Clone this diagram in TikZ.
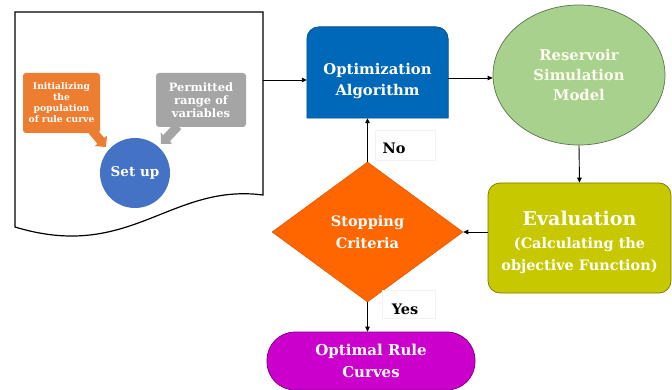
\documentclass[tikz,border=0pt]{standalone}
\usepackage{fontspec}
\setmainfont{DejaVu Serif}
\usetikzlibrary{shapes.geometric,arrows.meta}
\definecolor{optblue}{HTML}{0068B8}
\definecolor{resgreen}{HTML}{A9D18E}
\definecolor{evalol}{HTML}{C8C800}
\definecolor{stoporange}{HTML}{FF6600}
\definecolor{optmag}{HTML}{CC00CC}
\definecolor{setblue}{HTML}{4472C4}
\definecolor{callorange}{HTML}{ED7D31}
\definecolor{callgray}{HTML}{A5A5A5}
\tikzset{
  conn/.style={draw=black, line width=0.9pt, -{Triangle[length=5pt,width=4.5pt]}},
  boxtext/.style={text=white, font=\bfseries, align=center, inner sep=0pt},
  labelbox/.style={draw=black!5, fill=white, inner sep=0pt},
  labeltext/.style={font=\bfseries\fontsize{14.5}{16}\selectfont, inner sep=0pt},
  callout/.style={rounded corners=3pt, text=white, align=center, inner sep=0pt},
}
\begin{document}
\begin{tikzpicture}[x=1pt,y=-1pt]
\useasboundingbox (0,0) rectangle (672,390);
% document shape
\draw[line width=1.2pt, fill=white] (15,12) -- (263,12) -- (263,195)
  .. controls (170,183) and (130,262) .. (15,227) -- cycle;
\coordinate (doc) at (263,80);
% callout arrows
\fill[callorange] (93.4,125.1) -- (104.3,138.0) -- (107.0,135.7) -- (106,147) -- (94.7,146.1) -- (97.4,143.8) -- (86.6,130.9) -- cycle;
\fill[callgray] (181.3,129.1) -- (169.8,141.3) -- (172.3,143.7) -- (161,144) -- (160.7,132.7) -- (163.2,135.1) -- (174.7,122.9) -- cycle;
% callouts
\node[callout, fill=callorange, minimum width=77pt, minimum height=60pt,
  font=\bfseries\fontsize{9.2}{11}\selectfont] (init) at (61.5,103)
  {Initializing\\the\\population\\of rule curve};
\node[callout, fill=callgray, minimum width=90pt, minimum height=54pt,
  font=\bfseries\fontsize{11.5}{12.8}\selectfont] (perm) at (201,100)
  {Permitted\\range of\\variables};
% set up circle
\node[circle, fill=setblue, minimum size=70pt, inner sep=0pt, text=white,
  font=\bfseries\fontsize{13.5}{15}\selectfont] (setup) at (135,173) {Set up};
% optimization algorithm
\node[minimum width=141pt, minimum height=91pt, inner sep=0pt] (opt) at (377.5,72.5) {};
\draw[fill=optblue, draw=optblue!70!black, line width=0.6pt]
  (opt.south west) [rounded corners=12pt] -- (opt.north west) -- (opt.north east) [sharp corners] -- (opt.south east) -- cycle;
\node[boxtext, font=\bfseries\fontsize{14.8}{21}\selectfont] (opttext) at ([yshift=-9pt]opt.center) {Optimization\\Algorithm};
% reservoir
\node[ellipse, fill=resgreen, draw=resgreen!55!black, line width=0.7pt, minimum width=172pt,
  minimum height=140pt, inner sep=0pt, text=white!94!yellow, align=center,
  font=\bfseries\fontsize{14.8}{20}\selectfont] (res) at (579,75)
  {Reservoir\\Simulation\\Model};
% evaluation
\node[rounded corners=12pt, fill=evalol, draw=evalol!60!black, line width=0.7pt,
  minimum width=183pt, minimum height=110pt, inner sep=0pt] (eval) at (579.5,238) {};
\node[text=white, align=center, inner sep=0pt,
  font=\bfseries\fontsize{14.4}{22}\selectfont] (evaltext) at ([yshift=-4pt]eval.center)
  {{\fontsize{19}{22}\selectfont Evaluation}\\[1pt]
   (Calculating the\\
   objective Function)};
% diamond
\node[diamond, fill=stoporange, draw=stoporange!85!black, line width=0.5pt, minimum width=191pt,
  minimum height=140pt, inner sep=0pt, text=white, align=center,
  font=\bfseries\fontsize{14.5}{22}\selectfont] (stop) at (367.5,232)
  {Stopping\\Criteria};
% optimal rule curves
\node[rounded corners=28pt, fill=optmag, draw=optmag!60!black, line width=0.7pt,
  minimum width=208pt, minimum height=58pt, inner sep=0pt, text=white, align=center,
  font=\bfseries\fontsize{15}{22}\selectfont] (rule) at (371,361)
  {Optimal Rule\\Curves};
% connectors
\draw[conn] (doc) -- (doc -| opt.west);
\coordinate (o1) at (opt.east |- 0,78);
\draw[conn] (o1) -- (o1 -| res.west);
\draw[conn] (res.south) -- (eval.north);
\draw[conn] (stop.east -| eval.west) -- (stop.east);
\draw[conn] (stop.north) -- (stop.north |- opt.south);
\draw[conn] (stop.south) -- (stop.south |- rule.north);
% labels
\node[labelbox, minimum width=60pt, minimum height=30pt] (nobox) at (405,145) {};
\node[labeltext] (no) at (394,148) {No};
\node[labelbox, minimum width=53pt, minimum height=28pt] (yesbox) at (408.5,304) {};
\node[labeltext] (yes) at (405,309) {Yes};
\end{tikzpicture}
\end{document}
